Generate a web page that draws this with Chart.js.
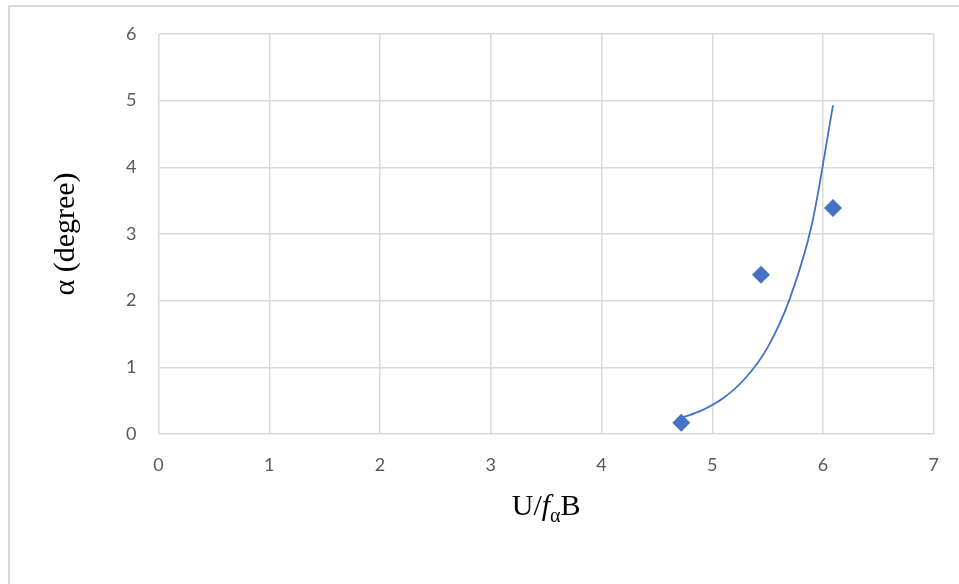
<!doctype html>
<html lang="en">

<head>
    <meta charset="utf-8">
    <title>alpha vs U/f B</title>
    <style>
        html, body { margin: 0; padding: 0; background: #fff; }
        #frame {
            position: absolute; left: 8px; top: 5px; width: 951px; height: 579px;
            border-left: 2px solid #d9d9d9; border-top: 2px solid #d9d9d9;
            box-sizing: border-box; pointer-events: none;
        }
        #myChart { position: absolute; left: 0; top: 0; }
    </style>
</head>

<body>
    <canvas id="myChart" width="959" height="584"></canvas>
    <div id="frame"></div>

    <script src="https://cdn.jsdelivr.net/npm/chart.js@4.3.0/dist/chart.umd.min.js"></script>
    <script>
        // measured points
        const pointX = [4.72, 5.44, 6.09];
        const pointY = [0.17, 2.39, 3.39];

        // trendline
        const trendX = [4.72, 4.9, 5.1, 5.3, 5.5, 5.7, 5.9, 6.09];
        const trendY = [0.24, 0.35, 0.54, 0.84, 1.30, 2.03, 3.15, 4.93];

        const xTicks = [0, 1, 2, 3, 4, 5, 6, 7];
        const yTicks = [0, 1, 2, 3, 4, 5, 6];

        const blue = '#4472C4';
        const gridColor = '#d9d9d9';
        const tickFont = { family: 'Lato', size: 18 };

        // axis titles: x title has italic f and subscript alpha
        const axisTitles = {
            id: 'axisTitles',
            afterDraw(chart) {
                const ctx = chart.ctx;
                const area = chart.chartArea;
                ctx.save();
                ctx.fillStyle = '#000';
                ctx.textBaseline = 'alphabetic';

                // y title
                ctx.font = '30px "Liberation Serif"';
                ctx.textAlign = 'center';
                ctx.translate(74, (area.top + area.bottom) / 2);
                ctx.rotate(-Math.PI / 2);
                ctx.fillText('α (degree)', 0, 0);
                ctx.setTransform(1, 0, 0, 1, 0, 0);

                // x title
                ctx.textAlign = 'left';
                const parts = [
                    { t: 'U/', font: '30px "Liberation Serif"', dy: 0 },
                    { t: 'f', font: 'italic 30px "Liberation Serif"', dy: 0 },
                    { t: 'α', font: '20px "Liberation Serif"', dy: 7 },
                    { t: 'B', font: '30px "Liberation Serif"', dy: 0 }
                ];
                let total = 0;
                parts.forEach(p => { ctx.font = p.font; p.w = ctx.measureText(p.t).width; total += p.w; });
                let x = (area.left + area.right) / 2 - total / 2;
                const base = 515;
                parts.forEach(p => {
                    ctx.font = p.font;
                    ctx.fillText(p.t, x, base + p.dy);
                    x += p.w;
                });
                ctx.restore();
            }
        };

        const config = {
            type: 'scatter',
            data: {
                datasets: [
                    {
                        label: 'Trend',
                        data: trendX.map((x, i) => ({ x: x, y: trendY[i] })),
                        showLine: true,
                        borderColor: blue,
                        borderWidth: 1.8,
                        pointRadius: 0,
                        cubicInterpolationMode: 'monotone',
                        fill: false
                    },
                    {
                        label: 'Data',
                        data: pointX.map((x, i) => ({ x: x, y: pointY[i] })),
                        pointStyle: 'rectRot',
                        pointRadius: 9,
                        backgroundColor: blue,
                        borderColor: blue,
                        borderWidth: 0
                    }
                ]
            },
            options: {
                responsive: false,
                animation: false,
                layout: { padding: { left: 0, top: 34, right: 25, bottom: 0 } },
                plugins: {
                    legend: { display: false },
                    tooltip: { enabled: false }
                },
                scales: {
                    x: {
                        type: 'linear',
                        min: 0,
                        max: 7,
                        afterBuildTicks: s => { s.ticks = xTicks.map(v => ({ value: v })); },
                        afterFit: s => { s.height = 150; },
                        grid: { color: gridColor, lineWidth: 1.5, drawTicks: false },
                        border: { display: false },
                        ticks: { font: tickFont, color: '#595959', padding: 20 }
                    },
                    y: {
                        type: 'linear',
                        min: 0,
                        max: 6,
                        afterBuildTicks: s => { s.ticks = yTicks.map(v => ({ value: v })); },
                        afterFit: s => { s.width = 158.5; },
                        grid: { color: gridColor, lineWidth: 1.5, drawTicks: false },
                        border: { display: false },
                        ticks: { font: tickFont, color: '#595959', padding: 22 }
                    }
                }
            },
            plugins: [axisTitles]
        };

        new Chart(document.getElementById('myChart'), config);
    </script>
</body>

</html>
